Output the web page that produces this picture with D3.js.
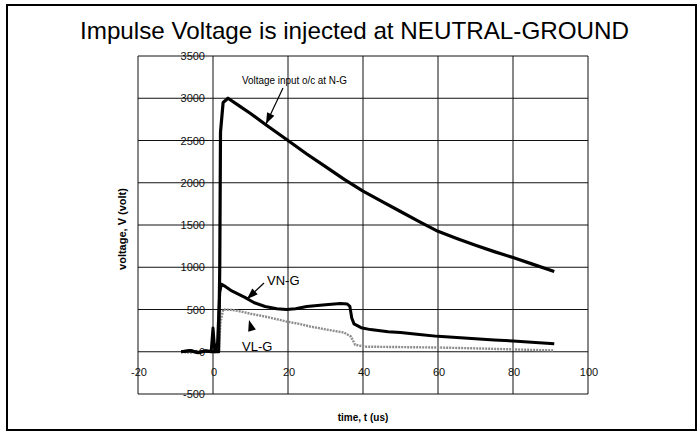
<!DOCTYPE html>
<html>
<head>
<meta charset="utf-8">
<script src="https://cdn.jsdelivr.net/npm/d3@7"></script>
<style>
  body { margin: 0; background: #fff; }
  svg { display: block; }
  .tick-lbl { font-family: "Liberation Sans Narrow", "Arial Narrow", "Liberation Sans", sans-serif; font-size: 11px; fill: #111; }
</style>
</head>
<body>
<svg id="xart" width="697" height="432"></svg>
<script>
// ------------------DADES------------------
// tensio d'entrada (circuit obert a N-G)
var vinTime = [-8.5, -6, -4, -2, 0, 1.5, 1.8, 2.0, 2.7, 4, 7, 10, 14, 20, 25, 30, 35, 40, 45, 50, 55, 60, 65, 70, 75, 80, 85, 91];
var vinVolt = [0, 12, -10, 10, 0, 0, 1000, 2600, 2950, 3000, 2910, 2820, 2690, 2500, 2340, 2190, 2040, 1900, 1780, 1660, 1540, 1425, 1340, 1260, 1185, 1115, 1040, 950];
// tensio neutre-terra
var vngTime = [-8.5, -6, -4, -2, -0.5, 0, 0.5, 1.2, 1.8, 2.2, 3, 5, 8.5, 11, 13.9, 17, 19.6, 22, 25, 30, 34, 35.8, 36.5, 37, 37.6, 39.5, 42, 46.7, 50, 55, 60, 65, 70, 75, 80, 85, 91];
var vngVolt = [0, 15, -10, 10, 0, 280, 0, 100, 700, 800, 780, 720, 643, 580, 536, 510, 500, 510, 536, 555, 571, 565, 536, 400, 330, 285, 262, 238, 228, 205, 182, 168, 155, 140, 128, 112, 95];
// tensio linia-terra
var vlgTime = [-8.5, -6, -4, -2, 0, 1.5, 2.0, 2.7, 5, 7.5, 10, 13.9, 17, 19.6, 23, 26, 30, 35, 36.8, 37.9, 40.5, 45, 50, 60, 70, 80, 91];
var vlgVolt = [0, -10, 10, 0, 0, 0, 350, 500, 495, 476, 450, 417, 385, 357, 330, 298, 265, 226, 179, 83, 60, 58, 55, 50, 40, 28, 15];
// marques dels eixos
var xTicks = [-20, 0, 20, 40, 60, 80, 100];
var yTicks = [-500, 0, 500, 1000, 1500, 2000, 2500, 3000, 3500];

// ------------------ESCALES------------------
var svg = d3.select("#xart");
var x = d3.scaleLinear().domain([-20, 100]).range([138, 588]);
var y = d3.scaleLinear().domain([-500, 3500]).range([394, 56]);

// ------------------FUNCIONS------------------
// marc exterior de tota la figura
function dibuixarMarc() {
    svg.append("rect")
        .attr("x", 7).attr("y", 5)
        .attr("width", 689).attr("height", 425)
        .attr("fill", "none")
        .attr("stroke", "#000")
        .attr("stroke-width", 2);
}

// titol
function dibuixarTitol() {
    svg.append("text")
        .attr("x", 80).attr("y", 39)
        .attr("textLength", 549).attr("lengthAdjust", "spacingAndGlyphs")
        .style("font-family", "Liberation Sans, Arial, sans-serif")
        .style("font-size", "24px")
        .text("Impulse Voltage is injected at NEUTRAL-GROUND");
}

// quadricula i vora de l'area del grafic
function dibuixarQuadricula() {
    var g = svg.append("g");
    g.selectAll(".vx").data(xTicks).enter().append("line")
        .attr("x1", d => x(d)).attr("x2", d => x(d))
        .attr("y1", y(3500)).attr("y2", y(-500))
        .attr("stroke", "#111").attr("stroke-width", 1);
    g.selectAll(".hy").data(yTicks).enter().append("line")
        .attr("x1", x(-20)).attr("x2", x(100))
        .attr("y1", d => y(d)).attr("y2", d => y(d))
        .attr("stroke", "#111").attr("stroke-width", 1);
}

// etiquetes dels eixos, que es creuen a l'origen
function dibuixarEtiquetes() {
    svg.selectAll(".ylbl").data(yTicks).enter().append("text")
        .attr("class", "tick-lbl")
        .attr("x", x(0) - 8).attr("y", d => y(d) + 4)
        .attr("text-anchor", "end")
        .text(d => d);
    svg.selectAll(".xlbl").data(xTicks).enter().append("text")
        .attr("class", "tick-lbl")
        .attr("x", d => x(d) + 1).attr("y", y(0) + 24)
        .attr("text-anchor", "middle")
        .text(d => d);

    svg.append("text")
        .attr("transform", "translate(126,229) rotate(-90)")
        .attr("text-anchor", "middle")
        .style("font-family", "Liberation Sans, Arial, sans-serif")
        .style("font-size", "11px").style("font-weight", "bold")
        .text("voltage, V (volt)");
    svg.append("text")
        .attr("x", 363).attr("y", 421)
        .attr("text-anchor", "middle")
        .style("font-family", "Liberation Sans Narrow, Arial Narrow, sans-serif")
        .style("font-size", "10px").style("font-weight", "bold")
        .text("time, t (us)");
}

// dibuixa una serie
function dibuixarSerie(temps, volts, color, gruix, guions) {
    var punts = temps.map((t, i) => [t, volts[i]]);
    var linia = d3.line().x(d => x(d[0])).y(d => y(d[1]));
    svg.append("path")
        .datum(punts)
        .attr("d", linia)
        .attr("fill", "none")
        .attr("stroke", color)
        .attr("stroke-width", gruix)
        .attr("stroke-linejoin", "round")
        .attr("stroke-dasharray", guions);
}

// fletxa amb cap ple
function fletxa(x1, y1, x2, y2, ambLinia) {
    if (ambLinia) {
        svg.append("line")
            .attr("x1", x1).attr("y1", y1).attr("x2", x2).attr("y2", y2)
            .attr("stroke", "#000").attr("stroke-width", 1.2);
    }
    var ang = Math.atan2(y2 - y1, x2 - x1);
    var l = 11, w = 4;
    var bx = x2 - l * Math.cos(ang), by = y2 - l * Math.sin(ang);
    var px = -Math.sin(ang) * w, py = Math.cos(ang) * w;
    svg.append("path")
        .attr("d", `M${x2},${y2}L${bx + px},${by + py}L${bx - px},${by - py}Z`)
        .attr("fill", "#000");
}

// anotacions
function dibuixarAnotacions() {
    svg.append("text")
        .attr("x", 242).attr("y", 84)
        .attr("textLength", 105).attr("lengthAdjust", "spacingAndGlyphs")
        .style("font-family", "Liberation Sans Narrow, Arial Narrow, sans-serif")
        .style("font-size", "11px")
        .text("Voltage input o/c at N-G");
    fletxa(283, 88, 266, 124, true);

    svg.append("text")
        .attr("x", 267).attr("y", 285)
        .style("font-family", "Liberation Sans, Arial, sans-serif")
        .style("font-size", "13px")
        .text("VN-G");
    fletxa(264, 283, 247, 299, true);

    svg.append("text")
        .attr("x", 242).attr("y", 351)
        .style("font-family", "Liberation Sans, Arial, sans-serif")
        .style("font-size", "13px")
        .text("VL-G");
    fletxa(253, 334, 249, 320, false);
}

// ------------------MAIN------------------
dibuixarMarc();
dibuixarTitol();
dibuixarQuadricula();
dibuixarEtiquetes();
dibuixarSerie(vlgTime, vlgVolt, "#8c8c8c", 2.4, "2,1");
dibuixarSerie(vngTime, vngVolt, "#000", 3, null);
dibuixarSerie(vinTime, vinVolt, "#000", 3.2, null);
dibuixarAnotacions();
</script>
</body>
</html>
